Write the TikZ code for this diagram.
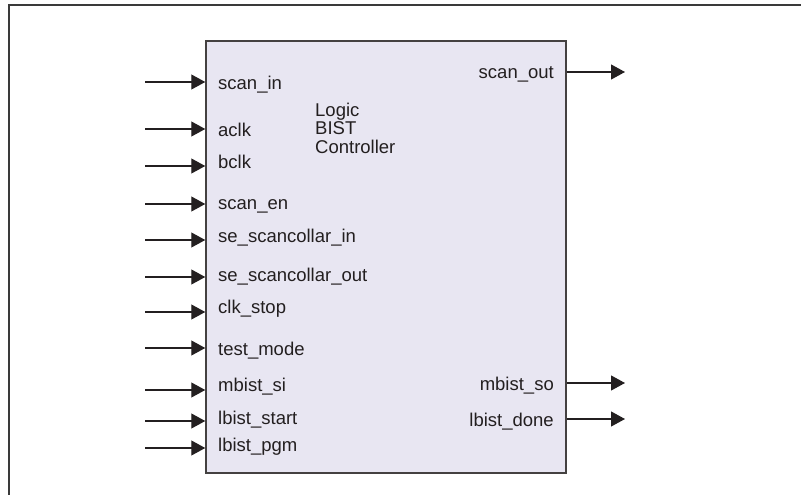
\documentclass[tikz,border=0pt]{standalone}
\usepackage{fontspec}
\setmainfont{Liberation Sans}
\usetikzlibrary{arrows.meta}
\definecolor{boxfill}{HTML}{E8E6F2}
\definecolor{ink}{HTML}{231F20}
\definecolor{frame}{HTML}{3A3A3A}
\tikzset{
  lbl/.style={anchor=base west, inner sep=0pt, text=ink, font=\fontsize{18.5}{18}\selectfont},
  rlbl/.style={anchor=base east, inner sep=0pt, text=ink, font=\fontsize{18.5}{18}\selectfont},
  arr/.style={draw=ink, line width=1.2pt, -{Triangle[length=14pt,width=15pt]}},
  blockbox/.style={draw=ink!85, line width=1.5pt, fill=boxfill, minimum width=360pt, minimum height=432pt, inner sep=0pt}
}
\begin{document}
\begin{tikzpicture}[x=1pt,y=-1pt]
\useasboundingbox (0,0) rectangle (801,495);
\draw[frame, line width=1.8pt] (9.3,495) -- (9.3,5.3) -- (801,5.3);
\node[blockbox] (box) at (386,257) {};
% title
\node[lbl] (t1) at (315,116.7) {Logic};
\node[lbl] (t2) at (315,134) {BIST};
\node[lbl] (t3) at (315,153.3) {Controller};
% inputs
\foreach \n/\y/\b/\t in {
  i1/82/89.3/scan\_in,
  i2/129/136/aclk,
  i3/166/168/bclk,
  i4/204/209.3/scan\_en,
  i5/240/242.7/se\_scancollar\_in,
  i6/277/281/se\_scancollar\_out,
  i7/312/313.3/clk\_stop,
  i8/348/355/test\_mode,
  i9/390/391.7/mbist\_si,
  i10/421/424.3/lbist\_start,
  i11/448/451/lbist\_pgm}{
  \coordinate (\n s) at (145,\y);
  \node[lbl] (\n l) at (218,\b) {\t};
  \draw[arr] (\n s) -- (box.west |- \n s);
}
% outputs
\foreach \n/\y/\b/\t in {
  o1/72/78.3/scan\_out,
  o2/383/390/mbist\_so,
  o3/419/426/lbist\_done}{
  \coordinate (\n e) at (625,\y);
  \node[rlbl] (\n l) at (554,\b) {\t};
  \draw[arr] (box.east |- \n e) -- (\n e);
}
\end{tikzpicture}
\end{document}
